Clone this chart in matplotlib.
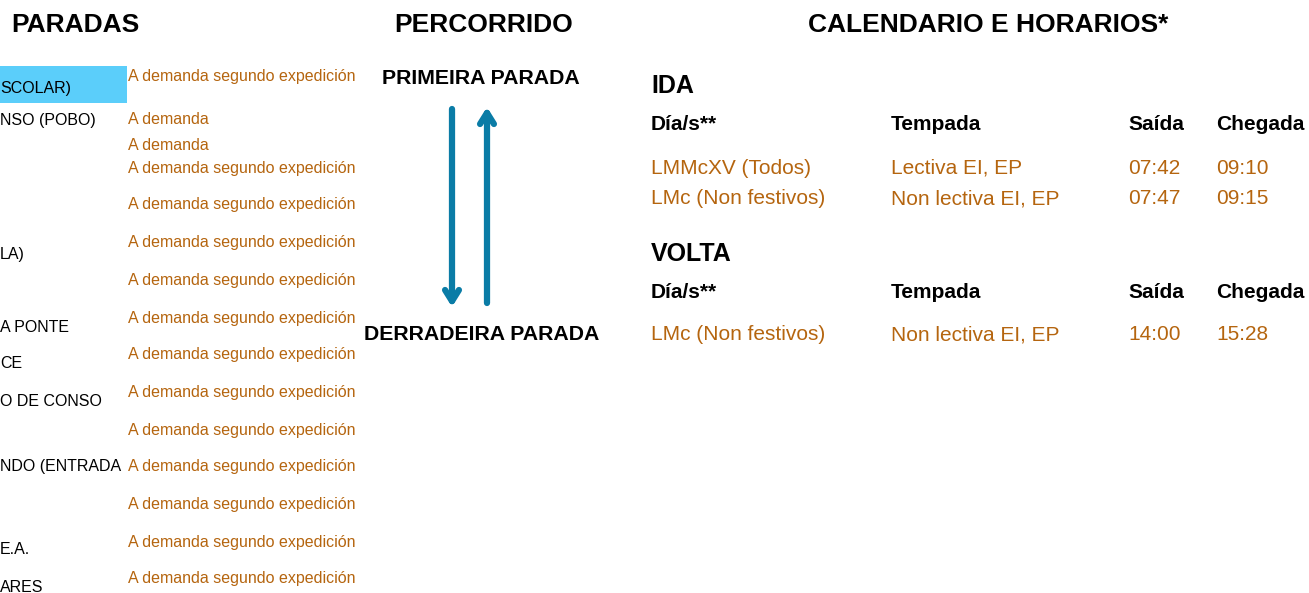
import matplotlib.pyplot as plt

plt.rcParams['font.family'] = ['Liberation Sans', 'DejaVu Sans']

# stop names (clipped on the left in the original)
stops = ["SCOLAR)", "NSO (POBO)", "LA)", "A PONTE", "CE", "O DE CONSO",
         "NDO (ENTRADA", "E.A.", "ARES"]
stop_y = [88, 120, 254, 327, 364, 402, 467, 550, 587]

notes = ["A demanda segundo expedición", "A demanda", "A demanda"] + \
        ["A demanda segundo expedición"] * 12
note_y = [77, 119, 146, 168, 205, 243, 280, 318, 355, 392, 430, 467, 504, 542, 579]

# timetable
cols = ["Día/s**", "Tempada", "Saída", "Chegada"]
col_x = [651, 891, 1128, 1216]
ida_rows = [["LMMcXV (Todos)", "Lectiva EI, EP", "07:42", "09:10"],
            ["LMc (Non festivos)", "Non lectiva EI, EP", "07:47", "09:15"]]
volta_rows = [["LMc (Non festivos)", "Non lectiva EI, EP", "14:00", "15:28"]]

ORANGE = "#B5650F"
BLUE = "#0A7CA6"
HL = "#5BCEFA"

fig = plt.figure(figsize=(13.09, 5.93), dpi=100)
ax = fig.add_axes([0, 0, 1, 1])
ax.set_xlim(0, 1309)
ax.set_ylim(593, 0)
ax.axis("off")

# section titles
ax.text(75, 25, "PARADAS", fontsize=19, fontweight="bold", ha="center", va="center")
ax.text(484, 25, "PERCORRIDO", fontsize=19, fontweight="bold", ha="center", va="center")
ax.text(988, 25, "CALENDARIO E HORARIOS*", fontsize=19, fontweight="bold", ha="center", va="center")

# stops
ax.add_patch(plt.Rectangle((0, 66), 127, 37, color=HL, lw=0))
for name, y in zip(stops, stop_y):
    ax.text(0, y, name, fontsize=11.5, ha="left", va="center")
for note, y in zip(notes, note_y):
    ax.text(128, y, note, fontsize=11.5, color=ORANGE, ha="left", va="center")

# route
ax.text(481, 79, "PRIMEIRA PARADA", fontsize=15.3, fontweight="bold", ha="center", va="center")
ax.text(482, 335, "DERRADEIRA PARADA", fontsize=15.3, fontweight="bold", ha="center", va="center")
arrow = dict(arrowstyle="->,head_length=0.8,head_width=0.5", color=BLUE, lw=4.5,
             shrinkA=0, shrinkB=0)
ax.annotate("", xy=(452, 307), xytext=(452, 109), arrowprops=arrow)
ax.annotate("", xy=(487, 107), xytext=(487, 303), arrowprops=arrow)

# timetable
def block(title, ty, hy, rows, ry):
    ax.text(651, ty, title, fontsize=18, fontweight="bold", ha="left", va="center")
    for c, x in zip(cols, col_x):
        ax.text(x, hy, c, fontsize=15, fontweight="bold", ha="left", va="center")
    for row, y in zip(rows, ry):
        for v, x in zip(row, col_x):
            ax.text(x, y, v, fontsize=15, color=ORANGE, ha="left", va="center")

block("IDA", 86, 125, ida_rows, [168, 199])
block("VOLTA", 254, 293, volta_rows, [335])

fig.savefig("out.png", dpi=100)
